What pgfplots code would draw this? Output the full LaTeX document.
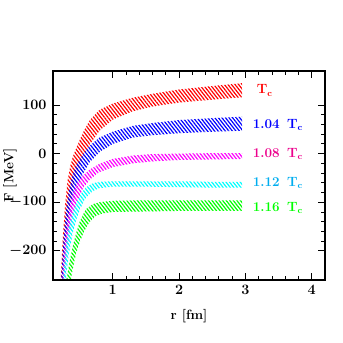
\documentclass[border=0pt]{standalone}
\usepackage{pgfplots}
\pgfplotsset{compat=1.18}
\usetikzlibrary{patterns.meta}

\tikzset{hatch/.style={draw=none, pattern={Lines[angle=-52,distance=2.8bp,line width=1.2bp]}, pattern color=#1}}

\begin{document}
\begin{tikzpicture}
\begin{axis}[
    scale only axis,
    width=272bp, height=209bp,
    xmin=0.1, xmax=4.2,
    ymin=-260, ymax=170,
    xtick={1,2,3,4},
    ytick={-200,-100,0,100},
    minor x tick num=4,
    minor y tick num=4,
    tick align=inside,
    major tick length=7bp,
    minor tick length=4bp,
    axis line style={line width=1.2pt},
    every tick/.style={black, line width=0.8pt},
    tick label style={font=\boldmath\fontsize{13.5}{16}\selectfont},
    xticklabel style={yshift=-2bp},
    yticklabel style={xshift=-3bp},
    label style={font=\bfseries\fontsize{13.5}{16}\selectfont},
    xlabel={r [fm]},
    ylabel={F [MeV]},
    xlabel style={at={(axis description cs:0.5,-0.172)}, anchor=center},
    ylabel style={at={(axis description cs:-0.158,0.5)}, anchor=center},
    axis on top,
]
% T_c : upper edge left to right, lower edge right to left
\addplot[hatch=red] coordinates {(0.20,-300) (0.22,-245) (0.25,-170) (0.28,-108) (0.32,-55) (0.36,-26) (0.40,-6) (0.45,11) (0.55,43) (0.65,68) (0.80,90) (1.0,103) (1.3,115) (1.6,123) (2.0,132) (2.5,139) (2.95,145)
  (2.95,116) (2.5,111) (2.0,105) (1.6,97) (1.3,87) (1.0,70) (0.80,47) (0.65,18) (0.55,-8) (0.45,-42) (0.40,-70) (0.36,-105) (0.32,-155) (0.28,-225) (0.24,-330)} -- cycle;
% 1.04 T_c
\addplot[hatch=blue] coordinates {(0.21,-300) (0.23,-240) (0.26,-175) (0.30,-115) (0.34,-75) (0.40,-42) (0.45,-24) (0.55,-2) (0.65,16) (0.80,33) (1.0,45) (1.3,57) (1.6,63) (2.0,69) (2.5,73) (2.95,76)
  (2.95,47) (2.5,45) (2.0,42) (1.6,38) (1.3,33) (1.0,20) (0.80,3) (0.65,-18) (0.55,-42) (0.45,-78) (0.40,-105) (0.36,-135) (0.32,-175) (0.28,-235) (0.24,-320)} -- cycle;
% 1.08 T_c
\addplot[hatch=magenta] coordinates {(0.22,-310) (0.25,-240) (0.28,-185) (0.32,-140) (0.36,-105) (0.40,-82) (0.45,-63) (0.55,-45) (0.65,-33) (0.80,-21) (1.0,-11) (1.3,-4) (1.6,-1) (2.0,0) (2.5,1) (2.95,1)
  (2.95,-11) (2.5,-12) (2.0,-13) (1.6,-16) (1.3,-20) (1.0,-28) (0.80,-38) (0.65,-54) (0.55,-72) (0.45,-103) (0.40,-130) (0.36,-160) (0.32,-200) (0.28,-255) (0.25,-320)} -- cycle;
% 1.12 T_c
\addplot[hatch=cyan] coordinates {(0.23,-310) (0.26,-245) (0.30,-185) (0.34,-150) (0.40,-120) (0.45,-102) (0.50,-88) (0.55,-77) (0.60,-69) (0.70,-61) (0.80,-58) (1.0,-57) (1.5,-57) (2.0,-57) (2.5,-58) (2.95,-58)
  (2.95,-70) (2.5,-70) (2.0,-69) (1.5,-68) (1.0,-68) (0.80,-71) (0.70,-77) (0.60,-90) (0.55,-102) (0.50,-117) (0.45,-137) (0.40,-162) (0.34,-205) (0.30,-250) (0.26,-320)} -- cycle;
% 1.16 T_c
\addplot[hatch=green] coordinates {(0.25,-320) (0.30,-262) (0.35,-222) (0.40,-190) (0.45,-163) (0.50,-141) (0.55,-126) (0.60,-114) (0.70,-104) (0.80,-100) (1.0,-97) (1.5,-96) (2.0,-96) (2.5,-96) (2.95,-96)
  (2.95,-118) (2.5,-118) (2.0,-118) (1.5,-119) (1.0,-120) (0.85,-123) (0.75,-128) (0.65,-141) (0.60,-152) (0.55,-166) (0.50,-183) (0.46,-200) (0.42,-222) (0.38,-250) (0.34,-285) (0.30,-330)} -- cycle;

\node[red, anchor=west, font=\bfseries\fontsize{13.5}{16}\selectfont] at (axis cs:3.12,130) {T$_{\mathbf{c}}$};
\node[blue, anchor=west, font=\bfseries\fontsize{13.5}{16}\selectfont] at (axis cs:3.06,59) {1.04\, T$_{\mathbf{c}}$};
\node[magenta, anchor=west, font=\bfseries\fontsize{13.5}{16}\selectfont] at (axis cs:3.06,0) {1.08\, T$_{\mathbf{c}}$};
\node[cyan, anchor=west, font=\bfseries\fontsize{13.5}{16}\selectfont] at (axis cs:3.06,-61) {1.12\, T$_{\mathbf{c}}$};
\node[green, anchor=west, font=\bfseries\fontsize{13.5}{16}\selectfont] at (axis cs:3.06,-111) {1.16\, T$_{\mathbf{c}}$};
\end{axis}
\path (-53bp,-63bp) rectangle (290bp,280bp);
\end{tikzpicture}
\end{document}
